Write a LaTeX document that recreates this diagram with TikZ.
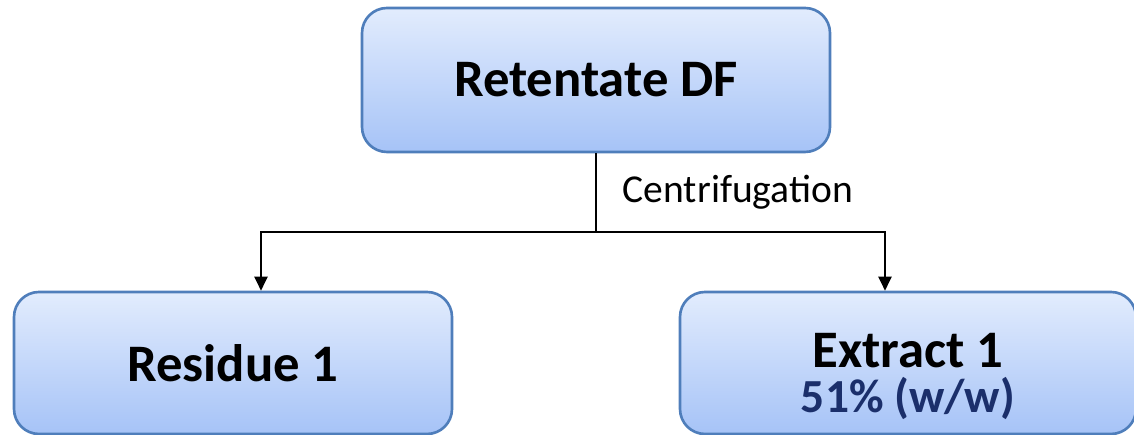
\documentclass[tikz,border=0pt]{standalone}
\usepackage{fontspec}
\setmainfont{Carlito}
\usepackage{tikz}
\usetikzlibrary{arrows.meta, positioning}
\definecolor{boxborder}{HTML}{4F7EBB}
\definecolor{boxtop}{HTML}{E2ECFD}
\definecolor{boxbottom}{HTML}{A6C3F7}
\definecolor{yieldblue}{HTML}{1B2F6B}
\tikzstyle{stage} = [rectangle, rounded corners=0.5cm, draw=boxborder, line width=1.5pt, top color=boxtop, bottom color=boxbottom, text centered, font=\fontsize{30}{26}\selectfont\bfseries]
\tikzstyle{arrow} = [line width=1.1pt, -{Triangle[width=7.5pt,length=8pt]}]

\begin{document}
\begin{tikzpicture}
    \useasboundingbox (0,0) rectangle (22.68,8.7);
    % Feed
    \node[stage, minimum width=9.36cm, minimum height=2.88cm] (retentate) at (11.92,7.1) {Retentate DF};

    % Products
    \node[stage, minimum width=8.76cm, minimum height=2.84cm] (residue) at (4.66,1.44) {Residue 1};
    \node[stage, minimum width=9.12cm, minimum height=2.84cm, align=center] (extract) at (18.16,1.44) {%
        \rule{0pt}{35pt}Extract 1\\
        {\fontsize{27}{26}\selectfont\color{yieldblue}51\% (w/w)}};

    % Split
    \coordinate (split) at (11.92,4.06);
    \draw[line width=1.1pt] (retentate.south) -- node[right=0.4cm, font=\fontsize{22.5}{26}\selectfont] {Centrifugation} (split);
    \draw[arrow] (split) -| ([xshift=0.56cm]residue.north);
    \draw[arrow] (split) -| ([xshift=-0.46cm]extract.north);
\end{tikzpicture}
\end{document}
